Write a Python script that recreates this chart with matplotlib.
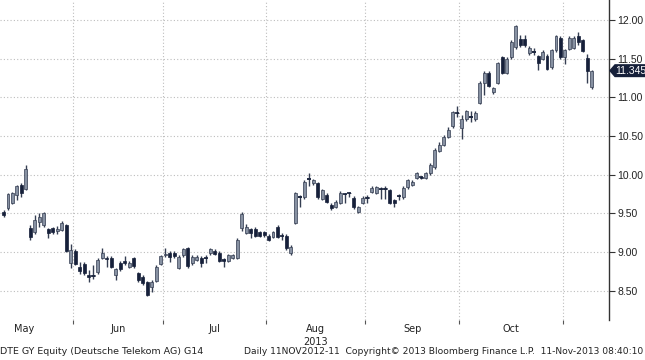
import matplotlib
matplotlib.use("Agg")
import matplotlib.pyplot as plt
import numpy as np
import pandas as pd
from matplotlib.patches import Polygon

# daily OHLC, DTE GY, 10 May 2013 .. 11 Nov 2013
opens = [
    9.52, 9.57, 9.64, 9.74, 9.87, 9.82, 9.31, 9.26, 9.39, 9.35,
    9.30, 9.31, 9.28, 9.29, 9.35, 8.86, 9.02, 8.81, 8.85, 8.71,
    8.69, 8.74, 8.93, 8.93, 8.93, 8.71, 8.86, 8.89, 8.81, 8.92,
    8.73, 8.68, 8.61, 8.55, 8.63, 8.85, 8.96, 8.99, 8.99, 8.80,
    8.96, 9.05, 8.86, 8.90, 8.93, 8.93, 8.99, 9.02, 8.99, 8.90,
    8.89, 8.93, 8.93, 9.31, 9.25, 9.30, 9.30, 9.26, 9.26, 9.21,
    9.20, 9.33, 9.21, 9.21, 8.99, 9.38, 9.71, 9.71, 9.95, 9.90,
    9.89, 9.69, 9.74, 9.61, 9.59, 9.64, 9.75, 9.76, 9.70, 9.52,
    9.64, 9.70, 9.78, 9.77, 9.81, 9.82, 9.80, 9.67, 9.72, 9.71,
    9.84, 9.87, 9.96, 9.97, 9.96, 10.02, 10.10, 10.31, 10.39, 10.49,
    10.63, 10.80, 10.60, 10.72, 10.75, 10.72, 10.93, 11.19, 11.32, 11.07,
    11.19, 11.52, 11.32, 11.52, 11.65, 11.75, 11.75, 11.57, 11.59, 11.53,
    11.50, 11.53, 11.39, 11.61, 11.77, 11.52, 11.63, 11.64, 11.79, 11.74,
    11.51, 11.13,
]
closes = [
    9.48, 9.75, 9.76, 9.85, 9.76, 10.08, 9.20, 9.42, 9.45, 9.50,
    9.25, 9.26, 9.30, 9.38, 9.02, 9.03, 8.85, 8.76, 8.73, 8.68,
    8.70, 8.90, 8.99, 8.91, 8.81, 8.78, 8.78, 8.86, 8.86, 8.82,
    8.64, 8.60, 8.45, 8.62, 8.81, 8.95, 8.98, 8.94, 8.95, 8.94,
    9.04, 8.82, 8.94, 8.94, 8.86, 8.92, 9.04, 8.98, 8.89, 8.89,
    8.96, 8.96, 9.16, 9.49, 9.33, 9.25, 9.21, 9.21, 9.22, 9.16,
    9.26, 9.20, 9.21, 9.05, 9.07, 9.76, 9.72, 9.91, 9.96, 9.93,
    9.71, 9.80, 9.65, 9.57, 9.65, 9.77, 9.75, 9.77, 9.58, 9.58,
    9.70, 9.71, 9.83, 9.84, 9.82, 9.83, 9.64, 9.64, 9.72, 9.83,
    9.93, 9.91, 10.02, 9.96, 10.02, 10.13, 10.32, 10.39, 10.49, 10.58,
    10.81, 10.80, 10.72, 10.82, 10.76, 10.80, 11.19, 11.32, 11.15, 11.12,
    11.44, 11.32, 11.50, 11.72, 11.92, 11.68, 11.68, 11.64, 11.60, 11.44,
    11.59, 11.37, 11.61, 11.79, 11.52, 11.61, 11.77, 11.77, 11.72, 11.60,
    11.34, 11.345,
]
highs = [
    9.54, 9.77, 9.78, 9.87, 9.89, 10.13, 9.35, 9.48, 9.50, 9.52,
    9.31, 9.33, 9.34, 9.40, 9.37, 9.10, 9.04, 8.87, 8.87, 8.77,
    8.83, 8.92, 9.05, 8.95, 8.95, 8.80, 8.88, 8.95, 8.88, 8.94,
    8.75, 8.70, 8.63, 8.64, 8.83, 8.97, 9.05, 9.01, 9.01, 8.96,
    9.06, 9.07, 8.96, 8.96, 8.95, 8.97, 9.06, 9.04, 9.01, 8.92,
    8.98, 8.98, 9.18, 9.52, 9.36, 9.31, 9.32, 9.28, 9.27, 9.23,
    9.28, 9.35, 9.25, 9.23, 9.09, 9.78, 9.74, 9.93, 10.02, 9.95,
    9.91, 9.82, 9.76, 9.64, 9.67, 9.79, 9.77, 9.78, 9.72, 9.60,
    9.72, 9.74, 9.85, 9.86, 9.84, 9.86, 9.82, 9.69, 9.75, 9.85,
    9.95, 9.93, 10.04, 9.99, 10.04, 10.15, 10.34, 10.42, 10.51, 10.62,
    10.83, 10.89, 10.77, 10.84, 10.82, 10.82, 11.21, 11.34, 11.34, 11.14,
    11.46, 11.54, 11.52, 11.74, 11.94, 11.80, 11.80, 11.66, 11.64, 11.55,
    11.61, 11.56, 11.63, 11.81, 11.79, 11.63, 11.79, 11.79, 11.84, 11.76,
    11.56, 11.36,
]
lows = [
    9.46, 9.55, 9.62, 9.67, 9.71, 9.80, 9.16, 9.24, 9.33, 9.33,
    9.18, 9.24, 9.24, 9.27, 9.00, 8.80, 8.83, 8.72, 8.71, 8.62,
    8.66, 8.72, 8.91, 8.81, 8.79, 8.64, 8.76, 8.84, 8.79, 8.80,
    8.62, 8.58, 8.43, 8.48, 8.61, 8.83, 8.94, 8.87, 8.93, 8.78,
    8.94, 8.80, 8.84, 8.88, 8.81, 8.86, 8.97, 8.96, 8.87, 8.81,
    8.87, 8.91, 8.91, 9.28, 9.23, 9.18, 9.19, 9.19, 9.20, 9.14,
    9.18, 9.18, 9.16, 9.03, 8.97, 9.36, 9.58, 9.69, 9.86, 9.87,
    9.69, 9.67, 9.63, 9.55, 9.57, 9.62, 9.64, 9.71, 9.56, 9.50,
    9.62, 9.64, 9.76, 9.75, 9.69, 9.69, 9.62, 9.58, 9.68, 9.69,
    9.82, 9.85, 9.94, 9.94, 9.94, 10.00, 10.08, 10.29, 10.37, 10.47,
    10.61, 10.75, 10.46, 10.70, 10.68, 10.70, 10.91, 11.03, 11.13, 11.05,
    11.17, 11.30, 11.30, 11.50, 11.63, 11.65, 11.65, 11.55, 11.55, 11.35,
    11.48, 11.35, 11.37, 11.59, 11.50, 11.43, 11.61, 11.62, 11.68, 11.58,
    11.19, 11.11,
]

month_labels = ["May", "Jun", "Jul", "Aug", "Sep", "Oct"]
price_ticks = [8.5, 9.0, 9.5, 10.0, 10.5, 11.0, 11.5, 12.0]
last_price = "11.345"

dates = pd.bdate_range(end="2013-11-11", periods=len(opens))
o, h, l, c = map(np.asarray, (opens, highs, lows, closes))
x = np.arange(len(dates))

up_col = "#8791a2"
dn_col = "#16203a"
edge_col = "#353e52"
grid_col = "#bdbdbd"
text_col = "#222222"
num_font = "Liberation Sans"

fig = plt.figure(figsize=(6.45, 3.6), dpi=100)
ax = fig.add_axes([0.0, 1 - 320 / 360, 609 / 645, 320 / 360])

up = c >= o
ax.vlines(x, l, h, color=edge_col, linewidth=1.0, zorder=2)
ax.bar(x[up], (c - o)[up], bottom=o[up], width=0.66, color=up_col,
       edgecolor=edge_col, linewidth=0.5, zorder=3)
ax.bar(x[~up], (o - c)[~up], bottom=c[~up], width=0.66, color=dn_col,
       edgecolor=dn_col, linewidth=0.5, zorder=3)
# dojis: keep a visible horizontal line
flat = np.abs(c - o) < 0.015
ax.hlines(o[flat], x[flat] - 0.45, x[flat] + 0.45, color=dn_col, linewidth=1.2, zorder=4)

# month boundaries
month_id = dates.month.values
bounds = [i - 0.5 for i in range(1, len(dates)) if month_id[i] != month_id[i - 1]]
for b in bounds:
    ax.axvline(b, color=grid_col, linestyle=(0, (1, 2)), linewidth=0.8, zorder=1)
for p in price_ticks:
    ax.axhline(p, color=grid_col, linestyle=(0, (1, 2)), linewidth=0.8, zorder=1)

ax.set_xlim(-0.78, 134.8)
ax.set_ylim(8.124, 12.258)

# month labels centred in each month (May starts before the visible range)
starts = [bounds[0] - 22] + bounds[:-1]
for name, a, b in zip(month_labels, starts, bounds):
    mid = (a + b) / 2
    ax.text(mid, -0.012, name, transform=ax.get_xaxis_transform(),
            ha="center", va="top", fontsize=7, color=text_col)
    if name == "Aug":
        ax.text(mid, -0.052, "2013", transform=ax.get_xaxis_transform(),
                ha="center", va="top", fontsize=7, color=text_col)

ax.set_xticks(bounds)
ax.set_xticklabels([])
ax.tick_params(axis="x", length=3, color="#555555", direction="out")

ax.yaxis.tick_right()
ax.set_yticks(price_ticks)
ax.set_yticklabels([f"{p:.2f}" for p in price_ticks], family=num_font)
ax.tick_params(axis="y", length=4, color="#333333", labelsize=7.5,
               labelcolor=text_col, pad=2)

for side in ("top", "left", "bottom"):
    ax.spines[side].set_visible(False)
ax.spines["right"].set_color("#333333")
ax.spines["right"].set_linewidth(1.0)

# last price tag: arrow box pinned to the right axis
lp = float(last_price)
trans = ax.get_yaxis_transform()
aw = 1 / 609
tag = Polygon([(1.0 + 1 * aw, lp), (1.0 + 6 * aw, lp + 0.075), (1.0 + 37 * aw, lp + 0.075),
               (1.0 + 37 * aw, lp - 0.075), (1.0 + 6 * aw, lp - 0.075)],
              closed=True, transform=trans, facecolor=dn_col, edgecolor=dn_col,
              clip_on=False, zorder=10)
ax.add_patch(tag)
ax.text(1.0 + 21.5 * aw, lp, last_price, transform=trans, ha="center", va="center",
        fontsize=7.5, family=num_font, color="white", clip_on=False, zorder=11)

fig.text(0.0, 0.012, "DTE GY Equity (Deutsche Telekom AG) G14",
         ha="left", va="bottom", fontsize=6.8, color=text_col)
fig.text(0.997, 0.012,
         "Daily 11NOV2012-11  Copyright\u00a9 2013 Bloomberg Finance L.P.  11-Nov-2013 08:40:10",
         ha="right", va="bottom", fontsize=6.6, color=text_col)

fig.savefig("out.png", dpi=100)
